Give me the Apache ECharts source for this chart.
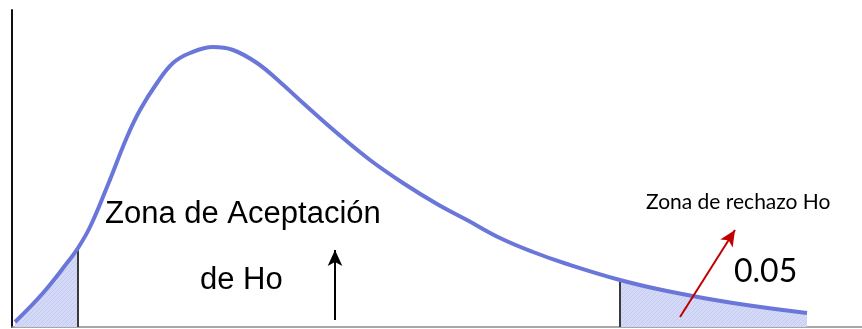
<!DOCTYPE html>
<html>
<head>
<meta charset="utf-8">
<script src="https://cdn.jsdelivr.net/npm/echarts@6/dist/echarts.min.js"></script>
<style>
html,body{margin:0;padding:0;background:#fff}
#chart{width:862px;height:329px}
</style>
</head>
<body>
<div id="chart"></div>
<script>
// curva (x, densidad) en unidades arbitrarias
var curveX = [0.3, 3.1, 5.5, 6.6, 7.8, 9.5, 11.5, 12.8, 14.5, 16.1, 17.8, 20.1, 22.1, 24.5, 26.8, 29.1, 32.5, 35.8, 39.1, 42.5, 45.5, 48.8, 52.1, 55.5, 60.8, 65.5, 72.1, 79.5];
var curveY = [0.5, 3.4, 6.4, 7.9, 10.0, 14.0, 19.0, 21.7, 24.4, 26.4, 27.4, 28.0, 27.7, 26.4, 24.5, 22.4, 19.4, 16.7, 14.4, 12.3, 10.7, 8.9, 7.5, 6.3, 4.7, 3.6, 2.4, 1.4];
var leftCrit = 6.6;
var rightCrit = 60.8;
var acceptArrow = [[32.3, 0.7], [32.3, 7.7]];
var rejectArrow = [[66.8, 1.0], [72.3, 9.7]];

var curve = curveX.map(function(x, i){ return [x, curveY[i]]; });
var leftTail = curve.filter(function(p){ return p[0] <= leftCrit; });
var rightTail = curve.filter(function(p){ return p[0] >= rightCrit; });
function yAt(x){ return curve.filter(function(p){ return p[0] === x; })[0][1]; }

// patron rayado suave para las colas
var pat = document.createElement('canvas');
pat.width = 4; pat.height = 4;
var c = pat.getContext('2d');
c.fillStyle = '#d3d9f6'; c.fillRect(0,0,4,4);
c.strokeStyle = '#c3cbf0'; c.lineWidth = 1;
c.beginPath(); c.moveTo(0,4); c.lineTo(4,0); c.stroke();

var chart = echarts.init(document.getElementById('chart'));
chart.setOption({
  animation:false,
  grid:{left:12, right:0, top:10, bottom:2},
  xAxis:{type:'value', min:0, max:85, axisLine:{show:true, lineStyle:{color:'#8a8a8a', width:1.5}}, axisTick:{show:false}, axisLabel:{show:false}, splitLine:{show:false}},
  yAxis:{type:'value', min:0, max:31.7, axisLine:{show:true, lineStyle:{color:'#111', width:2}}, axisTick:{show:false}, axisLabel:{show:false}, splitLine:{show:false}},
  series:[
    {type:'line', data:leftTail, smooth:0.4, symbol:'none', lineStyle:{width:0}, areaStyle:{color:{image:pat, repeat:'repeat'}, opacity:1}, z:1},
    {type:'line', data:rightTail, smooth:0.4, symbol:'none', lineStyle:{width:0}, areaStyle:{color:{image:pat, repeat:'repeat'}, opacity:1}, z:1},
    {type:'line', data:[[leftCrit,0],[leftCrit,yAt(leftCrit)]], symbol:'none', lineStyle:{color:'#3a3a3a', width:2}, z:2},
    {type:'line', data:[[rightCrit,0],[rightCrit,yAt(rightCrit)]], symbol:'none', lineStyle:{color:'#3a3a3a', width:2}, z:2},
    {type:'line', data:curve, smooth:0.4, symbol:'none', lineStyle:{color:'#6a77d8', width:4}, z:3,
      markLine:{silent:true, animation:false, label:{show:false}, symbolSize:[11,16], data:[
        [{coord:acceptArrow[0], symbol:'none'}, {coord:acceptArrow[1], symbol:'arrow', lineStyle:{color:'#000', width:2, type:'solid'}}],
        [{coord:rejectArrow[0], symbol:'none'}, {coord:rejectArrow[1], symbol:'arrow', lineStyle:{color:'#c00000', width:2, type:'solid'}}]
      ]}
    }
  ],
  graphic:[
    {type:'text', left:105, top:199, style:{text:'Zona de Aceptación', font:'31px "Liberation Sans", Arial, sans-serif', fill:'#000'}},
    {type:'text', left:200, top:265, style:{text:'de Ho', font:'31px "Liberation Sans", Arial, sans-serif', fill:'#000'}},
    {type:'text', left:646, top:192, style:{text:'Zona de rechazo Ho', font:'21px Lato, "Open Sans", sans-serif', fill:'#000'}},
    {type:'text', left:734, top:256, style:{text:'0.05', font:'32px Lato, "Open Sans", sans-serif', fill:'#000'}}
  ]
});
</script>
</body>
</html>
